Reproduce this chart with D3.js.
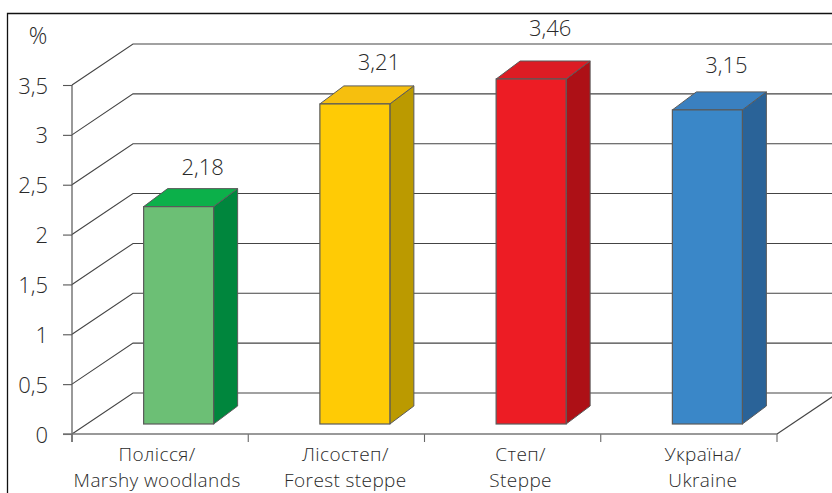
<!DOCTYPE html>
<html><head><meta charset="utf-8">
<script src="https://cdn.jsdelivr.net/npm/d3@7"></script>
<style>html,body{margin:0;padding:0;background:#fff}svg{display:block}text{font-family:"Open Sans",sans-serif;font-weight:300;fill:#2a2a2a}</style>
</head><body><div id="c"></div>
<script>
const categoriesUk = ["Полісся/","Лісостеп/","Степ/","Україна/"];
const categoriesEn = ["Marshy woodlands","Forest steppe","Steppe","Ukraine"];
const values = [2.18,3.21,3.46,3.15];
const valueLabels = ["2,18","3,21","3,46","3,15"];
const tickValues = [0,0.5,1,1.5,2,2.5,3,3.5];
const tickLabels = ["0","0,5","1","1,5","2","2,5","3","3,5"];
const frontColors = ["#6cbf75","#ffcb05","#ed1c24","#3a87c8"];
const sideColors = ["#00863d","#bb9a00","#ad1016","#2a6398"];
const topColors = ["#0cb04a","#f6bf0e","#dc1c24","#3a80c0"];
const valueLabelDx = [24,24,19,19];
const valueLabelDy = [31,33,42,36];
const catLabelDx = [-3,9,8,14];

const W=832,H=493;
const svg=d3.select("#c").append("svg").attr("width",W).attr("height",H);
const y=d3.scaleLinear().domain([0,3.5]).range([434,85]);
const x=d3.scaleBand().domain(categoriesEn).range([72,777]);
const wallDx=61, wallDy=41, wallEnd=900;
const barW=70, barOff=18.5, floorLift=10, depthX=24, depthY=18;

svg.append("path").attr("d",`M7.5,${H}V13.5H${W}`).attr("fill","none").attr("stroke","#111").attr("stroke-width",1.3);

svg.append("g").selectAll("path").data(tickValues).join("path")
  .attr("fill","none").attr("stroke","#444").attr("stroke-width",1.1)
  .attr("d",d=>{const p=d3.path();p.moveTo(72,y(d));p.lineTo(72+wallDx,y(d)-wallDy);p.lineTo(wallEnd,y(d)-wallDy);return p.toString();});

svg.append("line").attr("x1",777).attr("y1",y(0)).attr("x2",777+wallDx).attr("y2",y(0)-wallDy).attr("stroke","#444").attr("stroke-width",1.1);

svg.append("g").attr("transform","translate(72,0)")
  .call(d3.axisLeft(y).tickValues(tickValues).tickSize(9).tickPadding(15).tickFormat((d,i)=>tickLabels[i]))
  .call(g=>{g.select(".domain").attr("stroke","#555").attr("stroke-width",1.2).attr("d","M0,85V442");
    g.selectAll("line").attr("stroke","#555").attr("stroke-width",1.1);
    g.selectAll("text").attr("font-size",22).attr("dy","0.37em");});
const xTicks=[...categoriesEn.map(c=>x(c)),777];
svg.append("g").selectAll("line").data(xTicks).join("line")
  .attr("x1",d=>d).attr("x2",d=>d).attr("y1",434).attr("y2",442).attr("stroke","#666").attr("stroke-width",1.1);
svg.append("line").attr("x1",63).attr("x2",777).attr("y1",434).attr("y2",434).attr("stroke","#777").attr("stroke-width",1.4);

svg.append("text").attr("x",38).attr("y",44).attr("text-anchor","middle").attr("font-size",23).text("%");

const bars=svg.append("g").selectAll("g").data(values).join("g");
const L=i=>x(categoriesEn[i])+x.bandwidth()/2+barOff-barW/2;
const B=()=>y(0)-floorLift;
const T=d=>y(d)-floorLift;
const stroke="#5a5a5a";
bars.append("path").attr("fill",(d,i)=>sideColors[i]).attr("stroke",stroke).attr("stroke-linejoin","round")
  .attr("d",(d,i)=>{const r=L(i)+barW;return `M${r},${T(d)}L${r+depthX},${T(d)-depthY}V${B()-depthY}L${r},${B()}Z`;});
bars.append("path").attr("fill",(d,i)=>topColors[i]).attr("stroke",stroke).attr("stroke-linejoin","round")
  .attr("d",(d,i)=>{const l=L(i);return `M${l},${T(d)}L${l+depthX},${T(d)-depthY}H${l+barW+depthX}L${l+barW},${T(d)}Z`;});
bars.append("rect").attr("x",(d,i)=>L(i)).attr("y",d=>T(d)).attr("width",barW).attr("height",d=>B()-T(d))
  .attr("fill",(d,i)=>frontColors[i]).attr("stroke",stroke).attr("stroke-width",1.2);
bars.append("text").attr("x",(d,i)=>L(i)+barW/2+valueLabelDx[i]).attr("y",(d,i)=>T(d)-valueLabelDy[i]-0.5).attr("text-anchor","middle")
  .attr("font-size",22).text((d,i)=>valueLabels[i]);

const lab=svg.append("g").selectAll("text").data(categoriesEn).join("text")
  .attr("text-anchor","middle").attr("font-size",19).attr("letter-spacing",0.4);
lab.append("tspan").attr("x",(d,i)=>x(d)+x.bandwidth()/2+catLabelDx[i]).attr("y",461).text((d,i)=>categoriesUk[i]);
lab.append("tspan").attr("x",(d,i)=>x(d)+x.bandwidth()/2+catLabelDx[i]).attr("y",487).text(d=>d);
</script></body></html>
